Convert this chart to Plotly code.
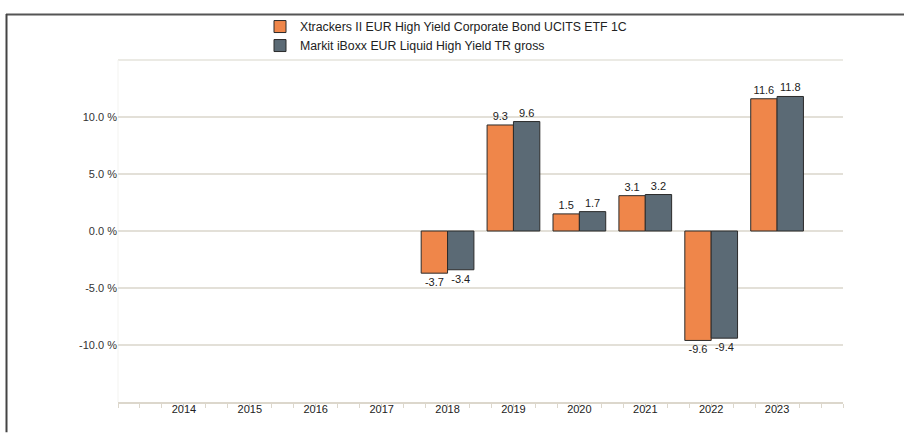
import plotly.graph_objects as go

years = ["2014", "2015", "2016", "2017", "2018", "2019", "2020", "2021", "2022", "2023"]
fund = [None, None, None, None, -3.7, 9.3, 1.5, 3.1, -9.6, 11.6]
index = [None, None, None, None, -3.4, 9.6, 1.7, 3.2, -9.4, 11.8]
fund_name = "Xtrackers II EUR High Yield Corporate Bond UCITS ETF 1C"
index_name = "Markit iBoxx EUR Liquid High Yield TR gross"
y_ticks = [-10, -5, 0, 5, 10]
y_tick_labels = [f"{v:.1f} %" for v in y_ticks]

xpos = list(range(len(years)))
FONT = "Liberation Sans, Arial, sans-serif"

fig = go.Figure()
for name, vals, color in [(fund_name, fund, "#ef864a"), (index_name, index, "#5b6a75")]:
    fig.add_trace(go.Bar(
        x=xpos, y=vals, name=name,
        marker=dict(color=color, line=dict(color="#2b2b2b", width=1)),
        text=[None if v is None else f"{v:.1f}" for v in vals],
        textposition="outside", cliponaxis=False,
        textfont=dict(family=FONT, size=11, color="#222222"),
    ))

L, R, T, B = 118, 61, 56.5, 30.7
W, H = 904, 433
pw, ph = W - L - R, H - T - B

def px(x):
    return (x - L) / pw

def py(y):
    return (H - B - y) / ph

fig.update_layout(
    width=W, height=H,
    margin=dict(l=L, r=R, t=T, b=B, pad=0),
    paper_bgcolor="white", plot_bgcolor="white",
    barmode="group", bargap=0.2, bargroupgap=0,
    font=dict(family=FONT, size=11, color="#222222"),
    showlegend=True,
    legend=dict(x=px(260), y=py(8), xanchor="left", yanchor="top",
                font=dict(family=FONT, size=12.3, color="#222222"),
                tracegroupgap=5, itemwidth=30, bgcolor="rgba(0,0,0,0)"),
    xaxis=dict(
        range=[-1, 10], tickmode="array", tickvals=xpos, ticktext=years,
        ticks="", showgrid=False, zeroline=False,
        showline=True, linecolor="#dcd7cc", linewidth=2,
        ticklabelstandoff=-4,
        tickfont=dict(family=FONT, size=11, color="#222222"),
        minor=dict(ticks="outside", tick0=-1, dtick=1/3, ticklen=4,
                   tickcolor="#dcd7cc", tickwidth=1, showgrid=False),
    ),
    yaxis=dict(
        range=[-15, 15], tickmode="array", tickvals=y_ticks, ticktext=y_tick_labels,
        showgrid=True, gridcolor="#e3e0d8", gridwidth=1.5,
        zeroline=False, showline=False, ticks="",
        tickfont=dict(family=FONT, size=11, color="#333333"),
    ),
)

# top band line of plot area
fig.add_shape(type="line", xref="paper", yref="paper", x0=0, x1=1, y0=1, y1=1,
              line=dict(color="#ebeae4", width=2), layer="below")
# faint left edge of plot area
fig.add_shape(type="line", xref="paper", yref="paper", x0=0, x1=0, y0=0, y1=1,
              line=dict(color="#f3f3f0", width=1), layer="below")
# outer frame (top and left edges)
fig.add_shape(type="line", xref="paper", yref="paper",
              x0=px(6), x1=px(904), y0=py(10.5), y1=py(10.5),
              line=dict(color="#555555", width=2))
fig.add_shape(type="line", xref="paper", yref="paper",
              x0=px(6.5), x1=px(6.5), y0=py(10), y1=py(433),
              line=dict(color="#444444", width=2))

fig.write_html("out.html", config={"displayModeBar": False},
               post_script="document.body.style.margin='0';")
